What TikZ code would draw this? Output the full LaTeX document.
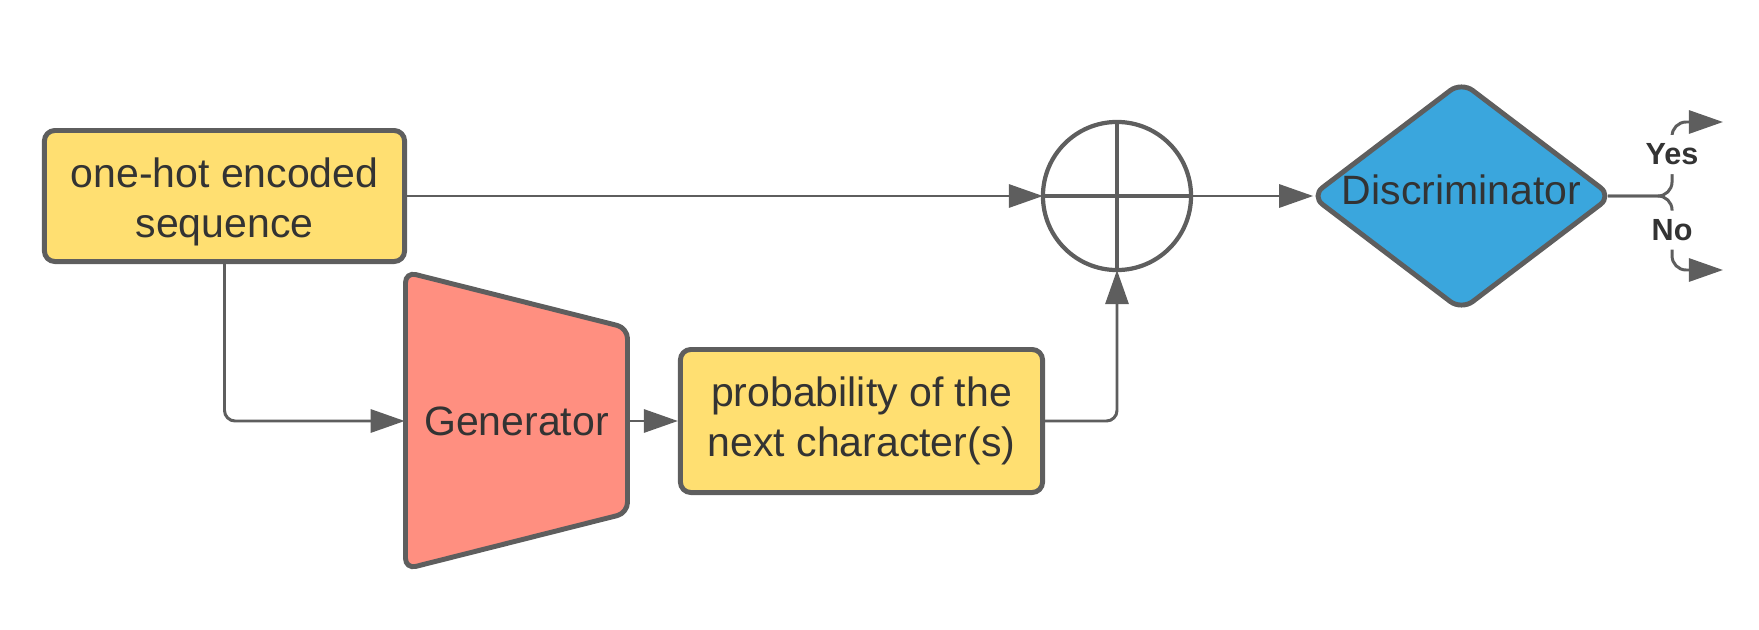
\documentclass[tikz,border=0pt]{standalone}
\usepackage{fontspec}
\setmainfont{Liberation Sans}
\definecolor{lcyellow}{HTML}{FFDF71}
\definecolor{lcsalmon}{HTML}{FF8F80}
\definecolor{lcblue}{HTML}{3AA6DD}
\definecolor{lcgray}{HTML}{5E5E5E}
\definecolor{lctext}{HTML}{333333}
\usetikzlibrary{arrows.meta,shapes.geometric}

\begin{document}
\begin{tikzpicture}[x=0.01cm,y=-0.01cm,
  yb/.style={draw=lcgray,line width=1.4pt,rounded corners=3pt,fill=lcyellow,text=lctext,align=center,
    font=\fontsize{11.66}{14.2}\selectfont,minimum width=3.6cm,minimum height=1.31cm,inner sep=0pt},
  genshape/.style={draw=lcgray,line width=1.4pt,rounded corners=3pt,fill=lcsalmon},
  gentxt/.style={text=lctext,font=\fontsize{11.66}{13.6}\selectfont,minimum width=2.22cm,inner sep=0pt},
  sumc/.style={circle,draw=lcgray,line width=1.2pt,fill=white,minimum size=1.48cm,inner sep=0pt,outer sep=0pt},
  dec/.style={diamond,draw=lcgray,line width=1.4pt,rounded corners=4pt,fill=lcblue,text=lctext,
    font=\fontsize{11.66}{13.6}\selectfont,minimum width=3.02cm,minimum height=2.3cm,aspect=1.35,
    inner sep=0pt,text depth=0.12cm},
  arr/.style={draw=lcgray,line width=0.85pt,-{Triangle[length=3.4mm,width=2.3mm]}},
  lbl/.style={font=\bfseries\fontsize{8.7}{10}\selectfont,text=lctext,fill=white,inner sep=2.5pt}]
  \useasboundingbox (0,0) rectangle (1759,630);
  \node[yb] (seq) at (224.5,196) {\rule{0pt}{11.7pt}one-hot encoded\\sequence};
  \draw[genshape] (405.5,272) -- (627.5,328) -- (627.5,513) -- (405.5,569) -- cycle;
  \node[gentxt] (gen) at (516.5,421) {Generator};
  \node[yb,minimum width=3.62cm,minimum height=1.43cm] (prob) at (861.5,421) {probability of the\\next character(s)};
  \node[sumc] (sum) at (1117,196) {};
  \draw[lcgray,line width=1.2pt] (sum.north) -- (sum.south) (sum.west) -- (sum.east);
  \node[dec] (disc) at (1461.5,196) {Discriminator};
  \coordinate (yesend) at (1723,122);
  \coordinate (noend) at (1723,270);
  \draw[arr] (seq.east) -- (sum.west);
  \draw[arr,rounded corners=3pt] (seq.south) |- (gen.west);
  \draw[arr] (gen.east) -- (prob.west);
  \draw[arr,rounded corners=3pt] (prob.east) -| (sum.south);
  \draw[arr,shorten >=-1.5pt] (sum.east) -- (disc.west);
  \draw[arr,rounded corners=4pt,shorten <=-2pt] (disc.east) -- ++(57,0) |- (yesend) node[lbl,pos=0.28] {Yes};
  \draw[arr,rounded corners=4pt,shorten <=-2pt] (disc.east) -- ++(57,0) |- (noend) node[lbl,pos=0.23] {No};
\end{tikzpicture}
\end{document}
